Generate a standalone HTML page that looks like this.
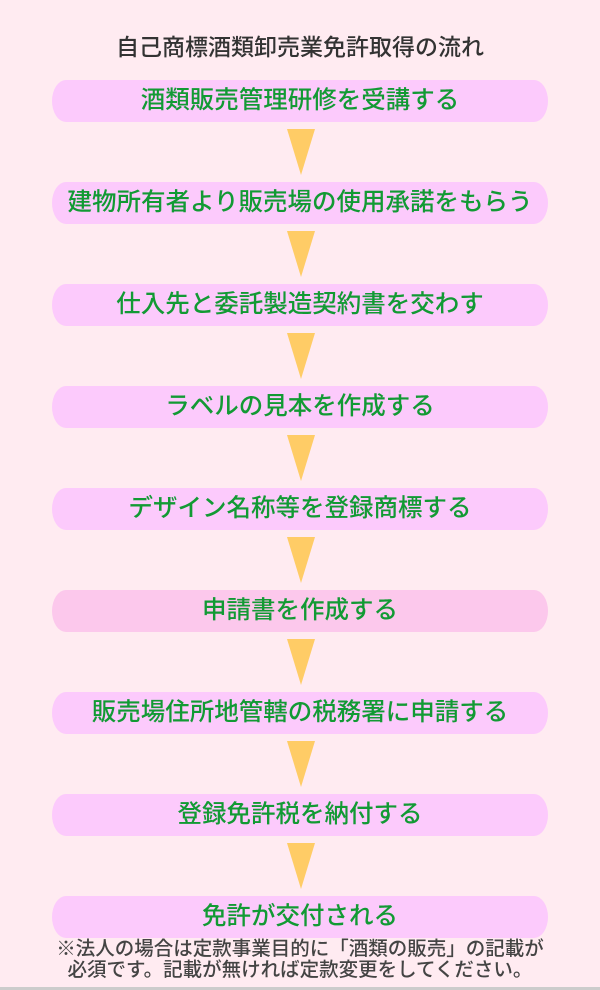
<!DOCTYPE html>
<html><head><meta charset="utf-8"><style>
html,body{margin:0;padding:0}
body{width:600px;height:990px;background:#ffebf1;position:relative;overflow:hidden;font-family:"Liberation Sans","Noto Sans CJK JP",sans-serif}
.t{position:absolute;left:0;width:600px;text-align:center;top:28px;font-size:23px;color:#333;font-weight:500}
.p{position:absolute;left:52px;width:496px;height:42px;background:#fccafc;border-radius:14px/21px;color:#129a34;font-size:24.5px;font-weight:500;text-align:center;line-height:42px;white-space:nowrap}
.a{position:absolute;left:287px;width:0;height:0;border-left:14px solid transparent;border-right:14px solid transparent;border-top:46px solid #ffcc66}
.n{position:absolute;left:0;width:600px;text-align:center;font-size:19.5px;color:#444;font-weight:500;line-height:21px;top:939px;white-space:nowrap}
.b{position:absolute;left:0;top:987px;width:600px;height:3px;background:#ccc}
</style></head><body>
<div class="t">自己商標酒類卸売業免許取得の流れ</div>
<div class="p" style="top:80px">酒類販売管理研修を受講する</div>
<div class="a" style="top:129px"></div>
<div class="p" style="top:182px">建物所有者より販売場の使用承諾をもらう</div>
<div class="a" style="top:231px"></div>
<div class="p" style="top:284px">仕入先と委託製造契約書を交わす</div>
<div class="a" style="top:333px"></div>
<div class="p" style="top:386px">ラベルの見本を作成する</div>
<div class="a" style="top:435px"></div>
<div class="p" style="top:488px">デザイン名称等を登録商標する</div>
<div class="a" style="top:537px"></div>
<div class="p" style="top:590px;background:#fcc8ec">申請書を作成する</div>
<div class="a" style="top:639px"></div>
<div class="p" style="top:692px">販売場住所地管轄の税務署に申請する</div>
<div class="a" style="top:741px"></div>
<div class="p" style="top:794px">登録免許税を納付する</div>
<div class="a" style="top:843px"></div>
<div class="p" style="top:896px">免許が交付される</div>
<div class="n">※法人の場合は定款事業目的に「酒類の販売」の記載が<br>必須です。記載が無ければ定款変更をしてください。</div>
<div class="b"></div>
</body></html>
